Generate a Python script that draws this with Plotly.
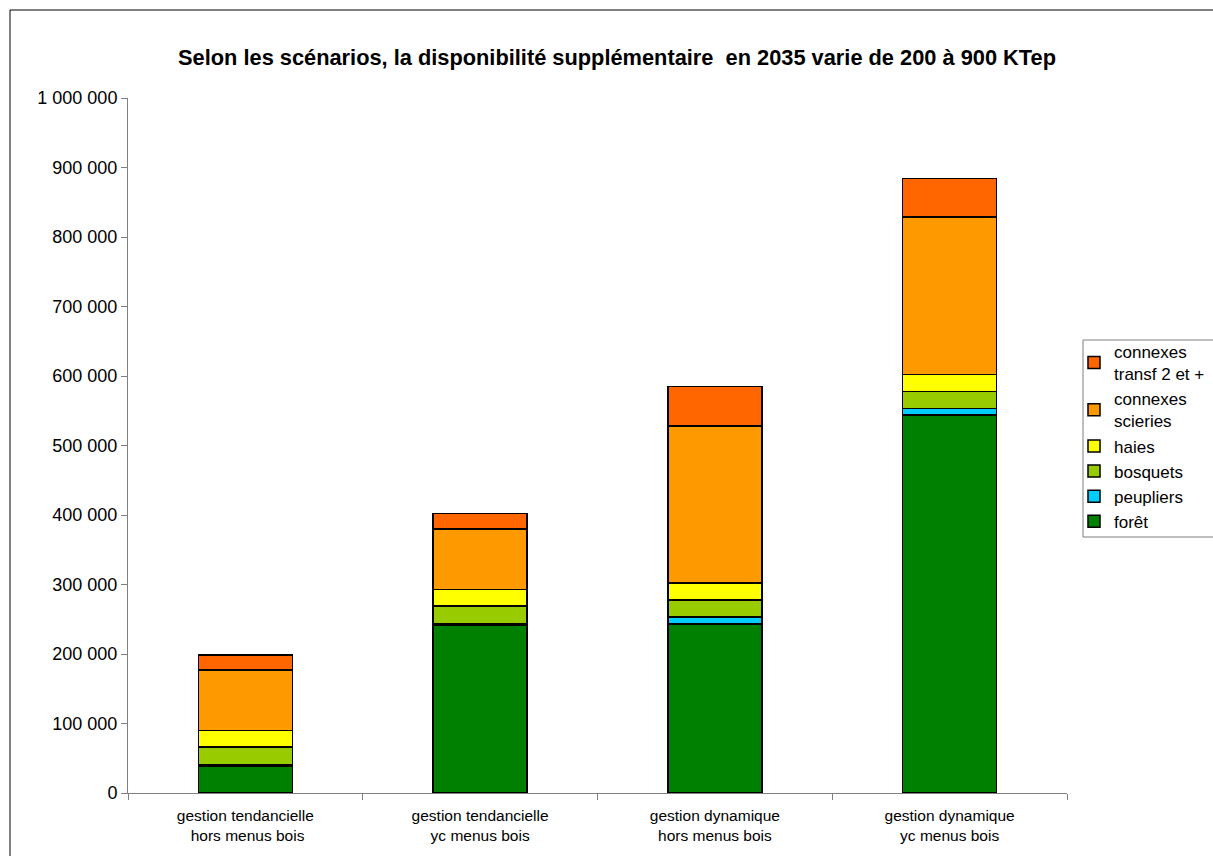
import plotly.graph_objects as go

categories = ["gestion tendancielle<br> hors menus bois", "gestion tendancielle<br>yc menus bois",
              "gestion dynamique<br>hors menus bois", "gestion dynamique<br>yc menus bois"]
foret = [38000, 241000, 243000, 544000]
peupliers = [2000, 2500, 10000, 9500]
bosquets = [26000, 25500, 25000, 24500]
haies = [24000, 24000, 24500, 24000]
scieries = [87000, 87000, 225500, 226500]
transf = [21500, 22000, 57000, 56000]

series = [
    ("forêt", foret, "#008000"),
    ("peupliers", peupliers, "#00CCFF"),
    ("bosquets", bosquets, "#99CC00"),
    ("haies", haies, "#FFFF00"),
    ("connexes<br>scieries", scieries, "#FF9900"),
    ("connexes<br>transf 2 et +", transf, "#FF6600"),
]

fig = go.Figure()
for name, vals, col in series:
    fig.add_trace(go.Bar(x=categories, y=vals, name=name,
                         marker=dict(color=col, line=dict(color="black", width=1.5))))

W, H = 1213, 856
L, R, T, B = 128, 146, 98, 63
pw, ph = W - L - R, H - T - B

fig.update_layout(
    width=W, height=H,
    margin=dict(l=L, r=R, t=T, b=B, pad=0, autoexpand=False),
    barmode="stack", bargap=0.6,
    paper_bgcolor="white", plot_bgcolor="white",
    separators=", ",
    font=dict(family="Liberation Sans, Arial, sans-serif", size=18, color="black"),
    title=dict(text="<b>Selon les scénarios, la disponibilité supplémentaire  en 2035 varie de 200 à 900 KTep</b>",
               x=617 / W, xref="container", xanchor="center",
               y=1 - 57 / H, yref="container", yanchor="middle",
               font=dict(size=21.8)),
    showlegend=True,
    legend=dict(traceorder="reversed", xref="container", yref="container",
                x=1074 / W, xanchor="left", y=1 - 334 / H, yanchor="top",
                borderwidth=0, bgcolor="rgba(0,0,0,0)",
                font=dict(size=17), tracegroupgap=0, itemwidth=30),
    xaxis=dict(showline=True, linecolor="#808080", linewidth=1, ticks="outside",
               tickson="boundaries", ticklen=6, tickcolor="#808080", showgrid=False,
               tickfont=dict(size=15.5), ticklabelstandoff=8),
    yaxis=dict(range=[0, 1000000], dtick=100000, tickformat=",d", showline=True,
               linecolor="#808080", linewidth=1, ticks="outside", ticklen=6,
               tickcolor="#808080", showgrid=False, zeroline=False,
               tickfont=dict(size=18)),
    shapes=[
        dict(type="rect", xref="paper", yref="paper",
             x0=(10 - L) / pw, x1=(W + 20 - L) / pw,
             y0=-(B + 20) / ph, y1=(H - B - 10) / ph,
             line=dict(color="black", width=1), fillcolor="rgba(0,0,0,0)", layer="below"),
        dict(type="rect", xref="paper", yref="paper",
             x0=(1083 - L) / pw, x1=(W + 20 - L) / pw,
             y0=(H - B - 537) / ph, y1=(H - B - 340) / ph,
             line=dict(color="#808080", width=1), fillcolor="rgba(0,0,0,0)", layer="below"),
    ],
)

fig.write_html("out.html")
